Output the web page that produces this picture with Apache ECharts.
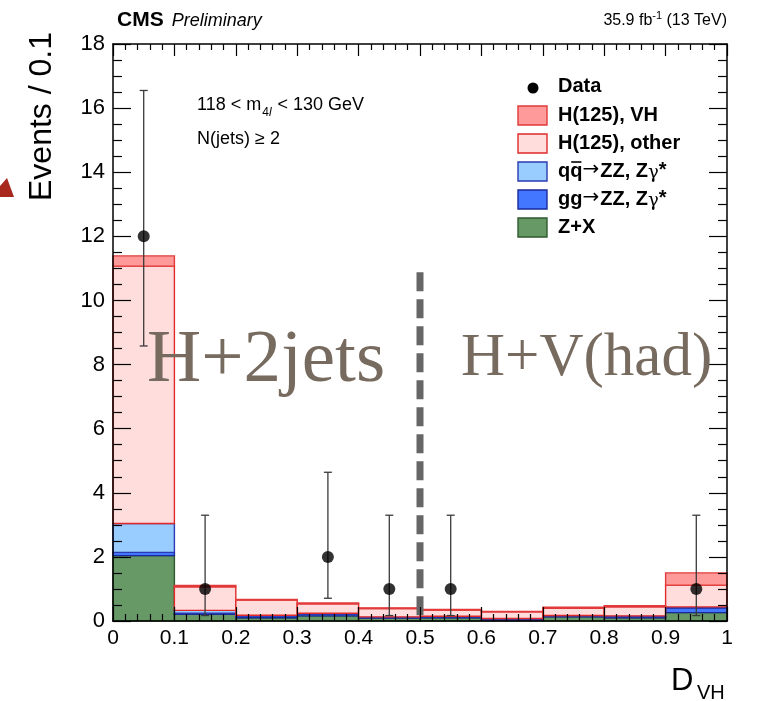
<!DOCTYPE html>
<html>
<head>
<meta charset="utf-8">
<script src="https://cdn.jsdelivr.net/npm/echarts@6/dist/echarts.min.js"></script>
<style>html,body{margin:0;padding:0;background:#fff}#c{width:764px;height:701px}</style>
</head>
<body>
<div id="c"></div>
<script>
// ---- data ----
const binEdges = [0, 0.1, 0.2, 0.3, 0.4, 0.5, 0.6, 0.7, 0.8, 0.9, 1.0];
const zPlusX  = [2.04, 0.21, 0.10, 0.16, 0.09, 0.10, 0.02, 0.13, 0.10, 0.26];
const ggZZ    = [0.10, 0.03, 0.06, 0.05, 0.02, 0.03, 0.05, 0.02, 0.03, 0.14];
const qqZZ    = [0.90, 0.09, 0.02, 0.03, 0.02, 0.02, 0.01, 0.02, 0.03, 0.04];
const hOther  = [8.03, 0.74, 0.47, 0.30, 0.26, 0.19, 0.21, 0.23, 0.28, 0.68];
const hVH     = [0.32, 0.04, 0.02, 0.02, 0.02, 0.02, 0.01, 0.03, 0.04, 0.38];
const dataX    = [0.05, 0.15, 0.35, 0.45, 0.55, 0.95];
const dataY    = [12, 1, 2, 1, 1, 1];
const dataLow  = [8.58, 0.17, 0.71, 0.17, 0.17, 0.17];
const dataHigh = [16.55, 3.30, 4.64, 3.30, 3.30, 3.30];
const dividerX = 0.5;
const dividerRange = [0.18, 10.9];
const legendNames = ['Data', 'H(125), VH', 'H(125), other', 'qq\u2192ZZ, Z\u03b3*', 'gg\u2192ZZ, Z\u03b3*', 'Z+X'];
const xTickLabels = ['0', '0.1', '0.2', '0.3', '0.4', '0.5', '0.6', '0.7', '0.8', '0.9', '1'];

// ---- styles ----
const layers = [
  {vals: zPlusX, fill: '#669966', stroke: '#2f5a2f'},
  {vals: ggZZ,   fill: '#4477ff', stroke: '#1a2a9a'},
  {vals: qqZZ,   fill: '#99ccff', stroke: '#2a3ab0'},
  {vals: hOther, fill: '#ffdddd', stroke: '#e02a2a'},
  {vals: hVH,    fill: '#ff9a9a', stroke: '#e23a3a'}
];
const SANS = 'Liberation Sans';

const mctx = document.createElement('canvas').getContext('2d');
function tw(text, font) { mctx.font = font; return mctx.measureText(text).width; }

// build stacked rect data
const cum = new Array(binEdges.length - 1).fill(0);
const stackSeries = layers.map((L, li) => {
  const d = L.vals.map((v, i) => {
    const y0 = cum[i];
    const y1 = y0 + v;
    cum[i] = y1;
    return [binEdges[i], binEdges[i + 1], y0, y1];
  });
  return {
    type: 'custom', xAxisIndex: 0, yAxisIndex: 0, z: 2 + li * 0.01,
    data: d,
    encode: {x: [0, 1], y: [2, 3]},
    renderItem: function (params, api) {
      const p0 = api.coord([api.value(0), api.value(3)]);
      const p1 = api.coord([api.value(1), api.value(2)]);
      return {
        type: 'rect',
        shape: {x: p0[0], y: p0[1], width: p1[0] - p0[0], height: p1[1] - p0[1]},
        style: {fill: L.fill, stroke: L.stroke, lineWidth: 1.4}
      };
    }
  };
});

const errData = dataX.map((x, i) => [x, dataLow[i], dataHigh[i]]);
const pointData = dataX.map((x, i) => [x, dataY[i]]);

function axisCommon(extra) {
  return Object.assign({
    type: 'value',
    splitLine: {show: false},
    axisLine: {show: true, onZero: false, lineStyle: {color: '#000', width: 1.5}},
    z: 10
  }, extra);
}

const option = {
  animation: false,
  backgroundColor: '#fff',
  grid: {left: 113, right: 37, top: 44, bottom: 80},
  xAxis: [
    axisCommon({
      min: 0, max: 1, interval: 0.1, position: 'bottom',
      axisTick: {show: true, inside: true, length: 14, lineStyle: {color: '#000', width: 1.2}},
      minorTick: {show: true, splitNumber: 5, length: 7, lineStyle: {color: '#000', width: 1.2}},
      axisLabel: {color: '#000', fontSize: 21, fontFamily: SANS, margin: 7,
        formatter: v => xTickLabels[Math.round(v * 10)]}
    }),
    axisCommon({
      min: 0, max: 1, interval: 0.1, position: 'top',
      axisTick: {show: true, inside: true, length: 12, lineStyle: {color: '#000', width: 1.2}},
      minorTick: {show: true, splitNumber: 5, length: 6, lineStyle: {color: '#000', width: 1.2}},
      axisLabel: {show: false}
    })
  ],
  yAxis: [
    axisCommon({
      min: 0, max: 18, interval: 2, position: 'left',
      axisTick: {show: true, inside: true, length: 18, lineStyle: {color: '#000', width: 1.2}},
      minorTick: {show: true, splitNumber: 4, length: 9, lineStyle: {color: '#000', width: 1.2}},
      axisLabel: {color: '#000', fontSize: 22, fontFamily: SANS, margin: 8}
    }),
    axisCommon({
      min: 0, max: 18, interval: 2, position: 'right',
      axisTick: {show: true, inside: true, length: 18, lineStyle: {color: '#000', width: 1.2}},
      minorTick: {show: true, splitNumber: 4, length: 9, lineStyle: {color: '#000', width: 1.2}},
      axisLabel: {show: false}
    })
  ],
  series: stackSeries.concat([
    {
      type: 'line', xAxisIndex: 0, yAxisIndex: 0, z: 5,
      data: [[dividerX, dividerRange[0]], [dividerX, dividerRange[1]]],
      symbol: 'none', silent: true,
      lineStyle: {color: '#666666', width: 7, type: [19, 8], cap: 'butt'}
    },
    {
      type: 'custom', xAxisIndex: 0, yAxisIndex: 0, z: 6,
      data: errData,
      encode: {x: 0, y: [1, 2]},
      renderItem: function (params, api) {
        const lo = api.coord([api.value(0), api.value(1)]);
        const hi = api.coord([api.value(0), api.value(2)]);
        const st = {stroke: '#3a3a3a', lineWidth: 1.3};
        return {type: 'group', children: [
          {type: 'line', shape: {x1: lo[0], y1: lo[1], x2: hi[0], y2: hi[1]}, style: st},
          {type: 'line', shape: {x1: lo[0] - 4, y1: lo[1], x2: lo[0] + 4, y2: lo[1]}, style: st},
          {type: 'line', shape: {x1: hi[0] - 4, y1: hi[1], x2: hi[0] + 4, y2: hi[1]}, style: st}
        ]};
      }
    },
    {
      type: 'scatter', xAxisIndex: 0, yAxisIndex: 0, z: 7,
      data: pointData, symbol: 'circle', symbolSize: 12,
      itemStyle: {color: '#000'}
    }
  ]),
  graphic: []
};

// ---- texts & legend via graphic ----
const g = option.graphic;
function txt(x, y, text, font, extra) {
  g.push(Object.assign({type: 'text', x: x, y: y, z: 50, style: {text: text, font: font, fill: '#000', verticalAlign: 'top'}}, extra || {}));
}
// header
const fCMS = 'bold 21px "Liberation Sans"';
txt(117, 10, 'CMS', fCMS);
txt(117 + tw('CMS', fCMS) + 8, 12, 'Preliminary', 'italic 18px "Liberation Sans"');
{
  const fa = '16px "Liberation Sans"', fs = '11px "Liberation Sans"';
  const p1 = '35.9 fb', p2 = '-1', p3 = ' (13 TeV)';
  const total = tw(p1, fa) + tw(p2, fs) + tw(p3, fa);
  let x = 727 - total;
  txt(x, 13, p1, fa); x += tw(p1, fa);
  txt(x, 10, p2, fs); x += tw(p2, fs);
  txt(x, 13, p3, fa);
}
// y axis title
g.push({type: 'text', x: 42, y: 32, rotation: Math.PI / 2, style: {
  text: 'Events / 0.1', font: '32px "Liberation Sans"', fill: '#000', align: 'right', verticalAlign: 'middle'}});
// x axis title
txt(671, 666, 'D', '31px "Liberation Sans"');
txt(697, 683, 'VH', '20px "Liberation Sans"');
// annotation
{
  const fa = '18px "Liberation Sans"', fs = '12px "Liberation Sans"', fi = 'italic 12px "Liberation Sans"';
  let x = 197;
  txt(x, 96, '118 < m', fa); x += tw('118 < m', fa) + 1;
  txt(x, 107, '4', fs); x += tw('4', fs);
  txt(x, 107, 'l', fi); x += tw('l', fi) + 1;
  txt(x, 96, ' < 130 GeV', fa);
  txt(197, 130, 'N(jets) \u2265 2', fa);
}
// big labels
g.push({type: 'text', x: 147, y: 361, z: 100, style: {text: 'H+2jets', font: '75px "Liberation Serif"', fill: '#776b5f', verticalAlign: 'middle'}});
g.push({type: 'text', x: 461, y: 359, z: 100, style: {text: 'H+V(had)', font: '61px "Liberation Serif"', fill: '#776b5f', verticalAlign: 'middle'}});
// partial red arrow at left edge
g.push({type: 'polygon', shape: {points: [[0, 197], [14, 197], [7, 178], [0, 186]]}, style: {fill: '#a8281e'}});

// legend
const legRows = [86, 115, 143, 171, 199, 227];
const legStyles = [null, layers[4], layers[3], layers[2], layers[1], layers[0]];
const fLeg = 'bold 20px "Liberation Sans"';
const fArrow = '20px "DejaVu Sans"';
const fGam = '18px "DejaVu Serif"';
legendNames.forEach((name, i) => {
  const y = legRows[i];
  if (i === 0) {
    g.push({type: 'circle', shape: {cx: 533, cy: y + 2, r: 5.5}, style: {fill: '#000'}});
  } else {
    const s = legStyles[i];
    g.push({type: 'rect', shape: {x: 518, y: y - 9, width: 29, height: 19}, style: {fill: s.fill, stroke: s.stroke, lineWidth: 1.4}});
  }
  // split text so the arrow and gamma use fitting glyphs
  const parts = name.split(/(\u2192|\u03b3|\*)/).filter(p => p.length);
  let x = 558;
  parts.forEach(p => {
    let font = fLeg, dy = 0;
    if (p === '\u2192') { font = fArrow; dy = -1; }
    else if (p === '\u03b3') { font = fGam; dy = 2; }
    else if (p === '*') { dy = -1; }
    g.push({type: 'text', x: x, y: y + dy, style: {text: p, font: font, fill: '#000', verticalAlign: 'middle'}});
    x += tw(p, font) + (p === '\u2192' ? 1 : 0);
  });
});
// anti-quark bar over second q
{
  const qx = 558 + tw('q', fLeg);
  g.push({type: 'line', shape: {x1: qx + 1, y1: legRows[3] - 9, x2: qx + tw('q', fLeg) - 1, y2: legRows[3] - 9}, style: {stroke: '#000', lineWidth: 1.6}});
}

const chart = echarts.init(document.getElementById('c'), null, {renderer: 'canvas'});
chart.setOption(option);
</script>
</body>
</html>
